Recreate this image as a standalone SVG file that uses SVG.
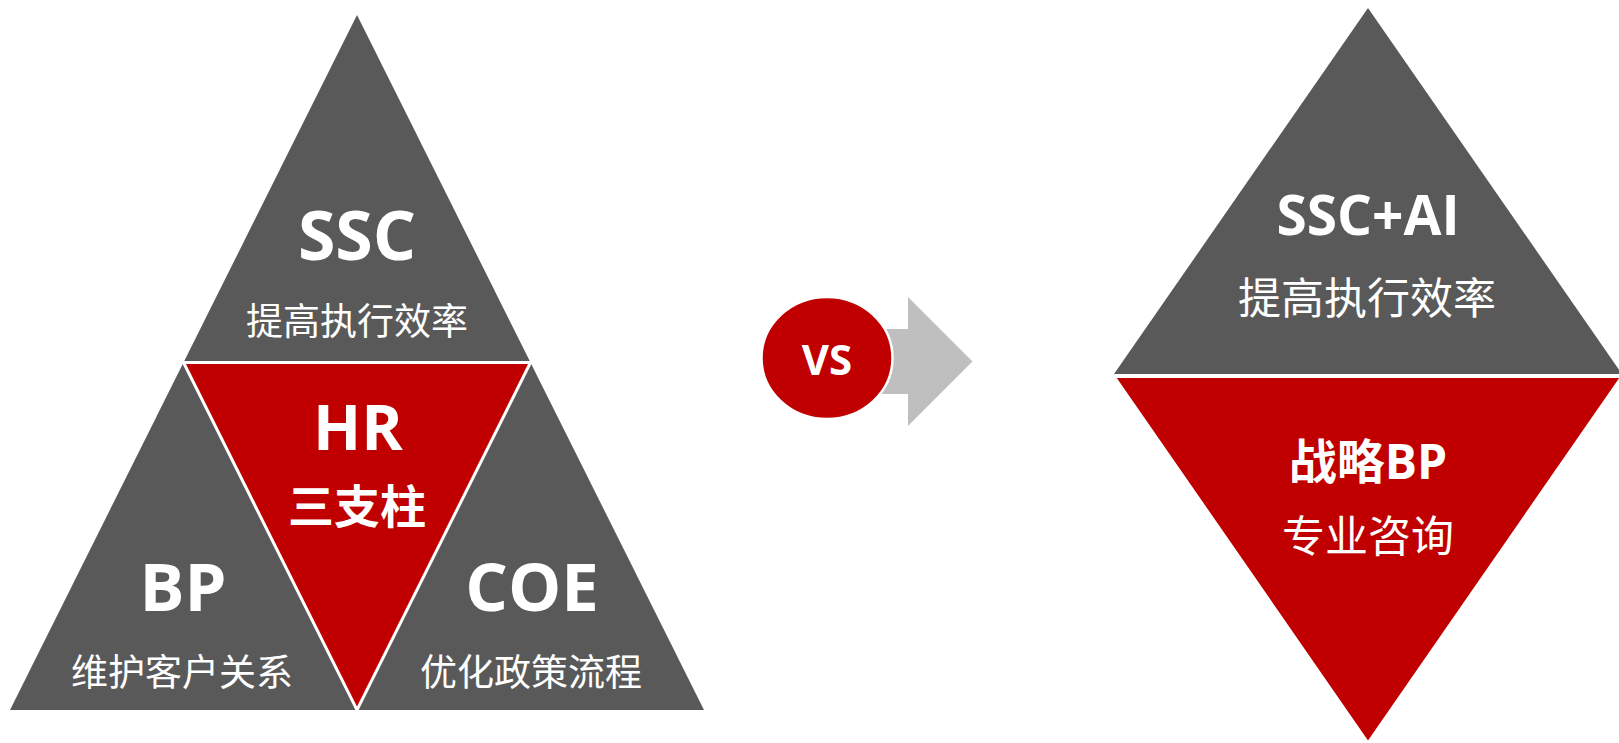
<svg xmlns="http://www.w3.org/2000/svg" width="1619" height="743" viewBox="0 0 1619 743">
  <style>
    .gray { fill: #595959; }
    .red { fill: #C00000; stroke: #FFFFFF; stroke-width: 3; stroke-linejoin: miter; }
    .lat { font-family: "Open Sans", "Noto Sans CJK SC", "Liberation Sans", sans-serif; font-weight: 700; fill: #FFFFFF; text-anchor: middle; }
    .cjk { font-family: "Noto Sans CJK SC", "Noto Sans", sans-serif; font-weight: 400; fill: #FFFFFF; text-anchor: middle; }
    .cjkb { font-family: "Open Sans", "Noto Sans CJK SC", sans-serif; font-weight: 700; fill: #FFFFFF; text-anchor: middle; }
  </style>
  <rect width="1619" height="743" fill="#FFFFFF"/>

  <g id="left-pyramid">
    <polygon class="gray" points="357,15 704,710 10,710"/>
    <polygon class="red" points="183.5,362.5 530.5,362.5 357,710"/>
  </g>

  <g id="node-ssc">
    <text class="lat" x="357" y="260" font-size="68">SSC</text>
    <text class="cjk" x="357" y="335" font-size="37">提高执行效率</text>
  </g>

  <g id="node-hr">
    <text class="lat" x="358" y="450" font-size="63">HR</text>
    <text class="cjkb" x="357" y="523" font-size="46">三支柱</text>
  </g>

  <g id="node-bp">
    <text class="lat" x="183" y="611" font-size="67">BP</text>
    <text class="cjk" x="182" y="686" font-size="37">维护客户关系</text>
  </g>

  <g id="node-coe">
    <text class="lat" x="532" y="611" font-size="67">COE</text>
    <text class="cjk" x="531" y="686" font-size="37">优化政策流程</text>
  </g>

  <g id="connectors">
    <polygon fill="#BFBFBF" points="850,329 908,329 908,297 972.5,361.5 908,426 908,394 850,394"/>
  </g>

  <g id="node-vs">
    <ellipse cx="827" cy="358" rx="65.5" ry="61" fill="#C00000" stroke="#FFFFFF" stroke-width="2.5"/>
    <text class="lat" x="827" y="375" font-size="42">VS</text>
  </g>

  <g id="right-diamond">
    <polygon class="gray" points="1368,8 1622,374 1114,374"/>
    <polygon class="red" points="1114,376.5 1622,376.5 1368,743"/>
  </g>

  <g id="node-ssc-ai">
    <text class="lat" x="1368" y="235" font-size="55">SSC+AI</text>
    <text class="cjk" x="1367" y="314" font-size="43">提高执行效率</text>
  </g>

  <g id="node-strategy-bp">
    <text class="cjkb" x="1368" y="479" font-size="48">战略BP</text>
    <text class="cjk" x="1368" y="552" font-size="43">专业咨询</text>
  </g>
</svg>
